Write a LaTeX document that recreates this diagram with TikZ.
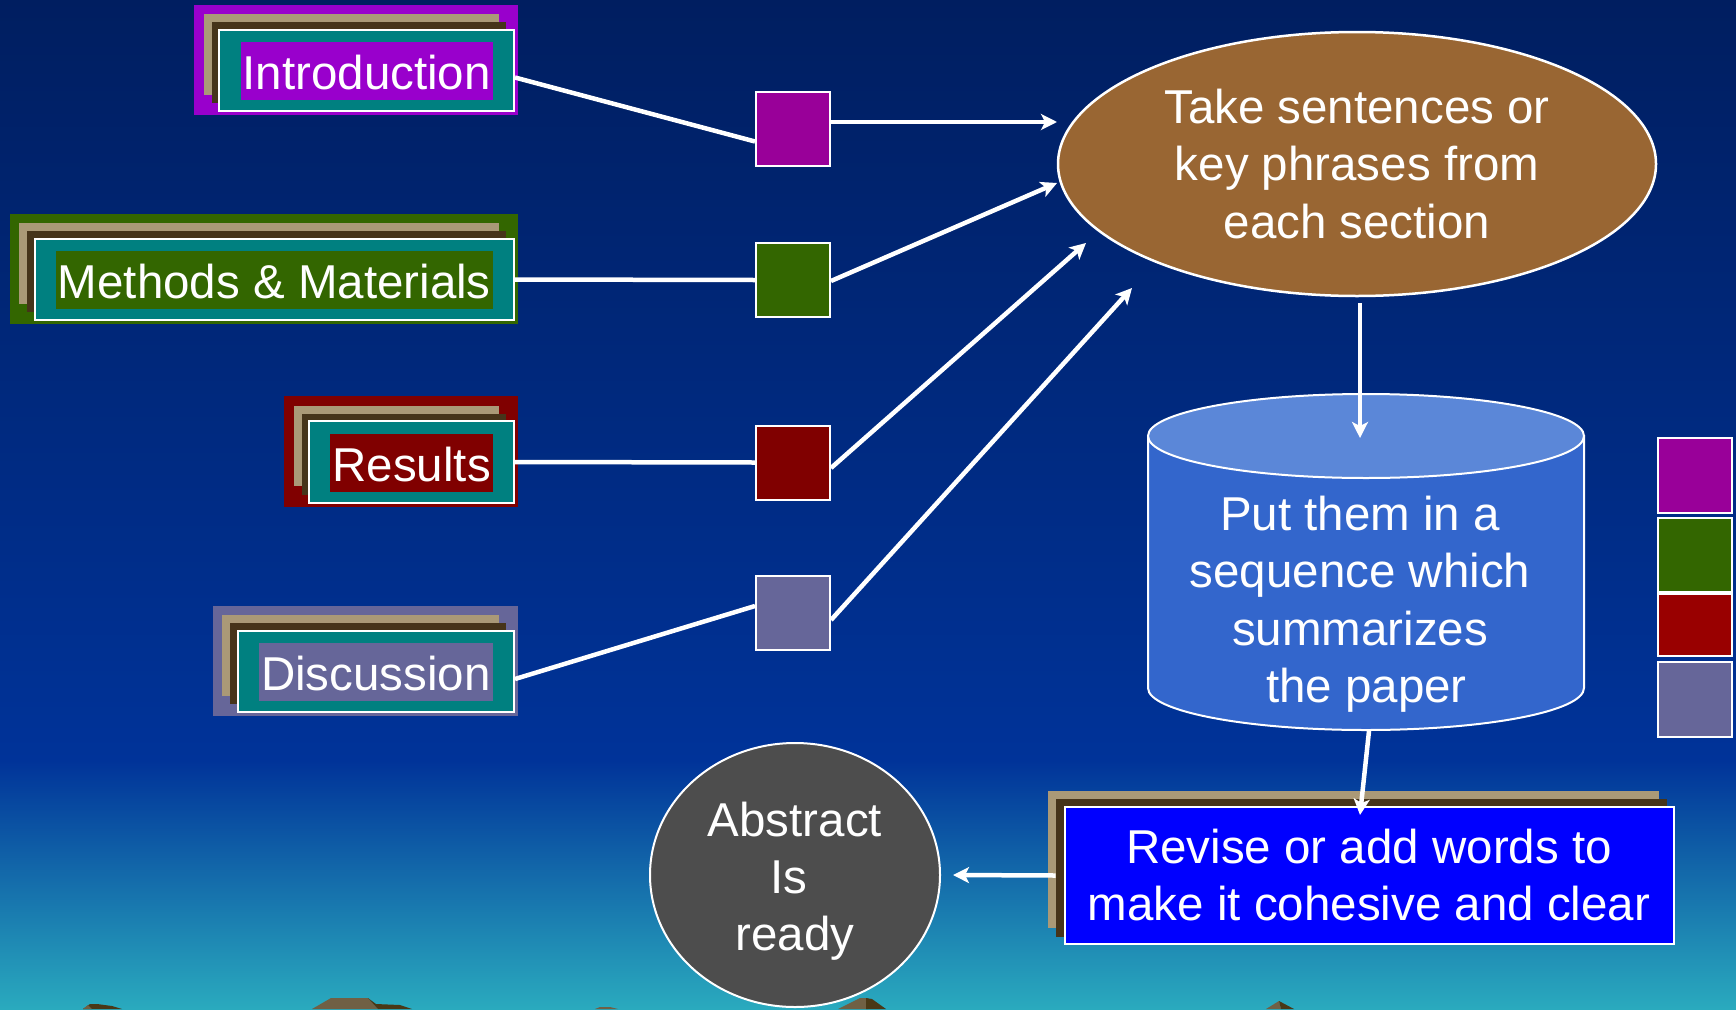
\documentclass[tikz,border=0pt]{standalone}
\usepackage{fontspec}
\setmainfont{Liberation Sans}
\usetikzlibrary{arrows.meta,calc,fit,shapes.geometric}
\pgfdeclarelayer{bg}
\pgfdeclarelayer{back}
\pgfsetlayers{bg,back,main}

\definecolor{skytop}{RGB}{0,30,96}
\definecolor{skymid}{RGB}{0,51,153}
\definecolor{skylow}{RGB}{42,170,190}
\definecolor{cardtan}{RGB}{170,153,119}
\definecolor{carddark}{RGB}{70,52,26}
\definecolor{cardteal}{RGB}{0,128,128}
\definecolor{intropurple}{RGB}{153,0,204}
\definecolor{sqpurple}{RGB}{153,0,153}
\definecolor{mmgreen}{RGB}{51,102,0}
\definecolor{resred}{RGB}{128,0,0}
\definecolor{brightred}{RGB}{153,0,0}
\definecolor{slate}{RGB}{102,102,153}
\definecolor{takebrown}{RGB}{153,102,51}
\definecolor{cylbody}{RGB}{51,102,204}
\definecolor{cyltopcol}{RGB}{91,135,216}
\definecolor{revblue}{RGB}{0,0,255}
\definecolor{absgrey}{RGB}{77,77,77}
\definecolor{rocklight}{RGB}{112,96,68}
\definecolor{rockdark}{RGB}{74,56,22}

\tikzset{
  big text/.style={text=white, font=\fontsize{47.5pt}{57.5pt}\selectfont, align=center},
  label box/.style={big text, inner xsep=2pt, inner ysep=0pt, minimum height=58pt,
                    text height=37pt, text depth=0pt},
  card/.style={fill=cardteal, draw=white, line width=2pt, inner sep=0pt},
  swatch/.style={draw=white, line width=2pt, minimum size=74pt, inner sep=0pt},
  wire/.style={draw=white, line width=4.5pt},
  flowarrow/.style={wire, -{Stealth[length=16pt,width=16pt,inset=4pt]}},
}

% section card: name, colour, label, vertical position of the label
\newcommand\sectioncard[4]{%
  \node[label box, fill=#2, anchor=east] (#1) at (493,#4) {#3};
  \coordinate (#1nw) at ($(#1.north west)+(-21,-12)$);
  \coordinate (#1se) at ($(#1.south east)+(21,11)$);
  \begin{pgfonlayer}{back}
    \fill[#2] ($(#1nw)+(-25,-25)$) rectangle ($(#1se)+(4,4)$);
    \fill[cardtan] ($(#1nw)+(-15.5,-15.5)$) rectangle ($(#1se)+(-15.5,-16.5)$);
    \fill[carddark] ($(#1nw)+(-7.5,-7.5)$) rectangle ($(#1se)+(-8,-8)$);
    \node[card, fit=(#1nw)(#1se)] (#1box) {};
  \end{pgfonlayer}
}

\begin{document}
\begin{tikzpicture}[x=1pt, y=-1pt]
\useasboundingbox (0,0) rectangle (1736,1009);

% sky and the rocks along the lower edge
\begin{pgfonlayer}{bg}
  \shade[top color=skytop, bottom color=skymid] (0,0) rectangle (1736,761);
  \shade[top color=skymid, bottom color=skylow] (0,760) rectangle (1736,1009);
  \fill[rockdark] (83,1009) -- (90,1004) -- (97,1004) -- (112,1006) -- (122,1009) -- cycle;
  \fill[rocklight] (83,1009) -- (88,1005) -- (92,1009) -- cycle;
  \fill[rocklight] (312,1009) -- (331,998) -- (368,998) -- (378,1009) -- cycle;
  \fill[rockdark] (368,998) -- (376,1004) -- (400,1005) -- (412,1009) -- (378,1009) -- cycle;
  \fill[rocklight] (595,1009) -- (600,1007) -- (610,1007) -- (618,1009) -- cycle;
  \fill[rocklight] (838,1009) -- (860,998) -- (868,998) -- (868,1009) -- cycle;
  \fill[rockdark] (866,998) -- (872,999) -- (886,1009) -- (866,1009) -- cycle;
  \fill[rocklight] (1266,1009) -- (1279,1001) -- (1281,1009) -- cycle;
  \fill[rockdark] (1279,1001) -- (1294,1009) -- (1281,1009) -- cycle;
\end{pgfonlayer}

% paper sections
\sectioncard{intro}{intropurple}{Introduction}{71}
\sectioncard{methods}{mmgreen}{Methods \& Materials}{280}
\sectioncard{results}{resred}{Results}{462.5}
\sectioncard{disc}{slate}{Discussion}{672}

% colour markers for the sections
\node[swatch, fill=sqpurple] (sq1) at (793,129) {};
\node[swatch, fill=mmgreen] (sq2) at (793,280) {};
\node[swatch, fill=resred] (sq3) at (793,462.5) {};
\node[swatch, fill=slate] (sq4) at (793,613) {};

\draw[wire] ($(introbox.east)+(0,7)$) -- ($(sq1.west)+(0,12.5)$);
\draw[wire] (methodsbox.east) -- (sq2.west);
\draw[wire] (resultsbox.east) -- (sq3.west);
\draw[wire] ($(discbox.east)+(0,7.5)$) -- ($(sq4.west)+(0,-7)$);

% step 1
\node[ellipse, fill=takebrown, draw=white, line width=2.5pt, minimum width=598pt,
      minimum height=264pt, inner sep=0pt, big text] (take) at (1357,164)
      {Take sentences or\\key phrases from\\each section};

\draw[flowarrow] ($(sq1.east)+(0,-7)$) -- ($(take.center)+(-300,-42)$);
\draw[flowarrow] ($(sq2.east)+(0,1)$) -- ($(take.center)+(-300,19)$);
\draw[flowarrow] ($(sq3.east)+(0,5.5)$) -- ($(take.center)+(-271,79)$);
\draw[flowarrow] ($(sq4.east)+(0,7)$) -- ($(take.center)+(-225,124)$);

% step 2: the cylinder
\coordinate (cyltop) at (1366,436);
\coordinate (cylbase) at (1369,731);
\filldraw[fill=cylbody, draw=white, line width=2pt]
  (1148,436) -- (1148,688) arc[start angle=180, end angle=0, x radius=218, y radius=42]
  -- (1584,436) -- cycle;
\filldraw[fill=cyltopcol, draw=white, line width=2pt] (cyltop) ellipse [x radius=218, y radius=42];
\node[big text, inner sep=0pt] (seq) at (1360,604)
  {Put them in a\\sequence which\\summarizes\\\hspace*{13pt}the paper};

\draw[flowarrow] ($(take.south)+(3,6)$) -- ($(cyltop)+(-6,2)$);

% step 3
\node[fill=revblue, draw=white, line width=2pt, minimum width=609pt, minimum height=137pt,
      inner sep=0pt, big text, font=\fontsize{47.5pt}{57pt}\selectfont] (revise) at (1369,875.5)
      {Revise or add words to\\make it cohesive and clear};
\begin{pgfonlayer}{back}
  \fill[cardtan] ($(revise.north west)+(-16,-15)$) rectangle ($(revise.south east)+(-16,-17)$);
  \fill[carddark] ($(revise.north west)+(-8,-7)$) rectangle ($(revise.south east)+(-8,-8)$);
\end{pgfonlayer}

\draw[flowarrow] (cylbase) -- ($(revise.north)+(-9,9)$);

% result
\node[ellipse, fill=absgrey, draw=white, line width=2pt, minimum width=290pt,
      minimum height=264pt, inner sep=0pt] (abs) at (795,875) {};
\node[big text, inner sep=0pt, font=\fontsize{47.5pt}{57pt}\selectfont] (abstext) at (795,881)
  {Abstract\\Is\rule{13pt}{0pt}\\ready};

\draw[flowarrow] ($(revise.west)+(-8,0)$) -- ($(abs.east)+(12,0)$);

% colour key on the right
\node[swatch, fill=sqpurple, minimum height=75pt] (rs1) at (1695,475.5) {};
\node[swatch, fill=mmgreen] (rs2) at (1695,555) {};
\node[swatch, fill=brightred, minimum height=62pt] (rs3) at (1695,625) {};
\node[swatch, fill=slate, minimum height=75pt] (rs4) at (1695,699.5) {};
\end{tikzpicture}
\end{document}
